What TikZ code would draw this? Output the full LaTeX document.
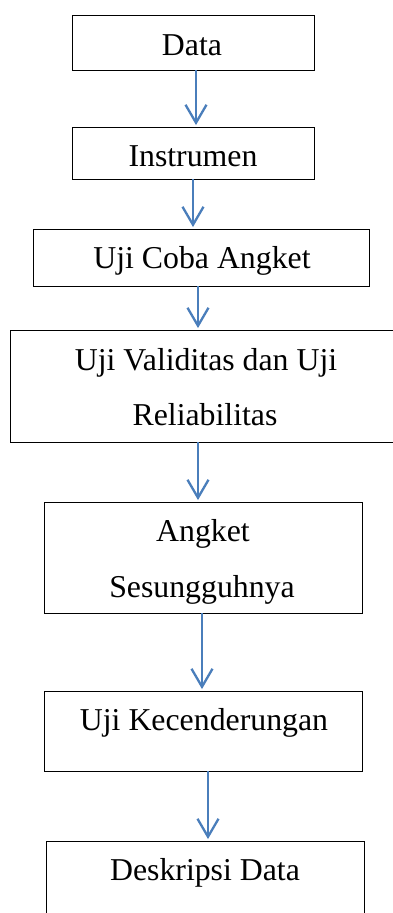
\documentclass[tikz,border=0pt]{standalone}
\usepackage{fontspec}
\setmainfont{Liberation Serif}
\usetikzlibrary{arrows.meta}
\definecolor{arrowblue}{RGB}{74,126,187}
\tikzset{
  box/.style={draw=black, line width=0.9pt, rectangle, inner sep=0pt},
  txt/.style={anchor=base, inner sep=0pt, font=\fontsize{31.8}{38}\selectfont},
  flow/.style={draw=arrowblue, line width=2.3pt, -{Straight Barb[length=18pt,width=21pt,line width=2.3pt]}, shorten >=1.5pt}
}
\begin{document}
\begin{tikzpicture}[x=1pt,y=-1pt]
\useasboundingbox (0,0) rectangle (393,913);
\clip (0,0) rectangle (393,913);
\fill[white] (0,0) rectangle (393,913);
% boxes
\node[box, minimum width=242pt, minimum height=55pt] (b1) at (193,42.5) {};
\node[box, minimum width=242pt, minimum height=52pt] (b2) at (193,153) {};
\node[box, minimum width=336pt, minimum height=57pt] (b3) at (201,257.5) {};
\node[box, minimum width=392pt, minimum height=112pt] (b4) at (206,386) {};
\node[box, minimum width=318pt, minimum height=111pt] (b5) at (203,557.5) {};
\node[box, minimum width=318pt, minimum height=80pt] (b6) at (203,731) {};
\node[box, minimum width=318pt, minimum height=89pt] (b7) at (205,885.5) {};
% texts
\node[txt] (t1) at (192,55) {Data};
\node[txt] (t2) at (193,166) {Instrumen};
\node[txt] (t3) at (202,268) {Uji Coba Angket};
\node[txt] (t4a) at (206,370) {Uji Validitas dan Uji};
\node[txt] (t4b) at (205,425) {Reliabilitas};
\node[txt] (t5a) at (203,541) {Angket};
\node[txt] (t5b) at (202,597) {Sesungguhnya};
\node[txt] (t6) at (204,730) {Uji Kecenderungan};
\node[txt] (t7) at (205,880) {Deskripsi Data};
% connectors
\draw[flow] (196,0 |- b1.south) -- (196,0 |- b2.north);
\draw[flow] (193,0 |- b2.south) -- (193,0 |- b3.north);
\draw[flow] (198,0 |- b3.south) -- (198,0 |- b4.north);
\draw[flow] (198,0 |- b4.south) -- (198,0 |- b5.north);
\draw[flow] (202,0 |- b5.south) -- (202,0 |- b6.north);
\draw[flow] (208,0 |- b6.south) -- (208,0 |- b7.north);
\end{tikzpicture}
\end{document}
